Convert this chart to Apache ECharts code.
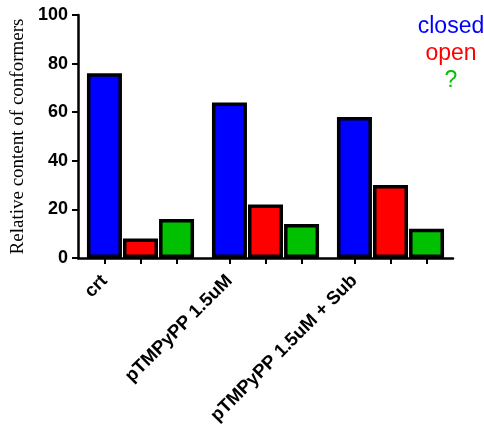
<!DOCTYPE html>
<html>
<head>
<meta charset="utf-8">
<script src="https://cdn.jsdelivr.net/npm/echarts@6/dist/echarts.min.js"></script>
<style>
    html, body {margin: 0; padding: 0; background: #fff;}
    #chart {width: 484px; height: 432px;}
</style>
</head>
<body>
<div id="chart"></div>
<script>
var groups = ['crt', 'pTMPyPP 1.5uM', 'pTMPyPP 1.5uM + Sub'];
var closedVals = [76, 64, 58];
var openVals = [8, 22, 30];
var unknownVals = [16, 14, 12];
var yTicks = [0, 20, 40, 60, 80, 100];

var colors = {closed: '#0000ff', open: '#ff0000', unknown: '#00c000'};
var slot = 36 / 125;  // one bar slot as a fraction of a group

// tick under every bar, label under the first bar of each group
var tickVals = [];
var labelVals = [];
for (var i = 0; i < groups.length; i++) {
    tickVals.push(i + 0.5 - slot, i + 0.5, i + 0.5 + slot);
    labelVals.push(i + 0.5 - slot);
}

function barSeries(name, data, color) {
    return {
        name: name,
        type: 'bar',
        xAxisIndex: 0,
        data: data,
        barWidth: 35,
        barGap: '3%',
        itemStyle: {color: color, borderColor: '#000', borderWidth: 3.5}
    };
}

var legendFont = {fontSize: 23, lineHeight: 27, fontWeight: 'normal', fontFamily: 'Liberation Sans'};

var myChart = echarts.init(document.getElementById('chart'));
var option = {
    animation: false,
    title: {
        left: 446,
        top: 8,
        textAlign: 'center',
        text: '{a|closed}\n{b|open}\n{c|?}',
        textStyle: {
            fontWeight: 'normal',
            rich: {
                a: echarts.util.extend({color: colors.closed}, legendFont),
                b: echarts.util.extend({color: colors.open}, legendFont),
                c: echarts.util.extend({color: colors.unknown}, legendFont)
            }
        }
    },
    grid: {left: 78, top: 15, right: 31, bottom: 174, containLabel: false},
    xAxis: [
        {
            type: 'category',
            data: groups,
            axisLine: {lineStyle: {color: '#000', width: 2.5}},
            axisTick: {show: false},
            axisLabel: {show: false}
        },
        {
            type: 'value',
            position: 'bottom',
            min: 0,
            max: groups.length,
            splitLine: {show: false},
            axisLine: {show: false},
            axisTick: {
                show: true, length: 6, customValues: tickVals,
                lineStyle: {color: '#000', width: 2}
            },
            axisLabel: {
                customValues: labelVals,
                rotate: 45,
                margin: 20,
                color: '#000',
                fontSize: 18.5,
                fontWeight: 'bold',
                fontFamily: 'Liberation Sans',
                formatter: function (v) {
                    return groups[Math.floor(v)];
                }
            }
        }
    ],
    yAxis: {
        type: 'value',
        min: yTicks[0],
        max: yTicks[yTicks.length - 1],
        interval: 20,
        name: 'Relative content of conformers',
        nameLocation: 'middle',
        nameGap: 43,
        nameTextStyle: {color: '#000', fontSize: 19, fontFamily: 'Liberation Serif'},
        splitLine: {show: false},
        axisLine: {show: true, lineStyle: {color: '#000', width: 2.5}},
        axisTick: {show: true, length: 6, lineStyle: {color: '#000', width: 2}},
        axisLabel: {
            color: '#000', fontSize: 18, fontWeight: 'bold',
            fontFamily: 'Liberation Sans', margin: 10
        }
    },
    series: [
        barSeries('closed', closedVals, colors.closed),
        barSeries('open', openVals, colors.open),
        barSeries('?', unknownVals, colors.unknown)
    ]
};
myChart.setOption(option);
</script>
</body>
</html>
